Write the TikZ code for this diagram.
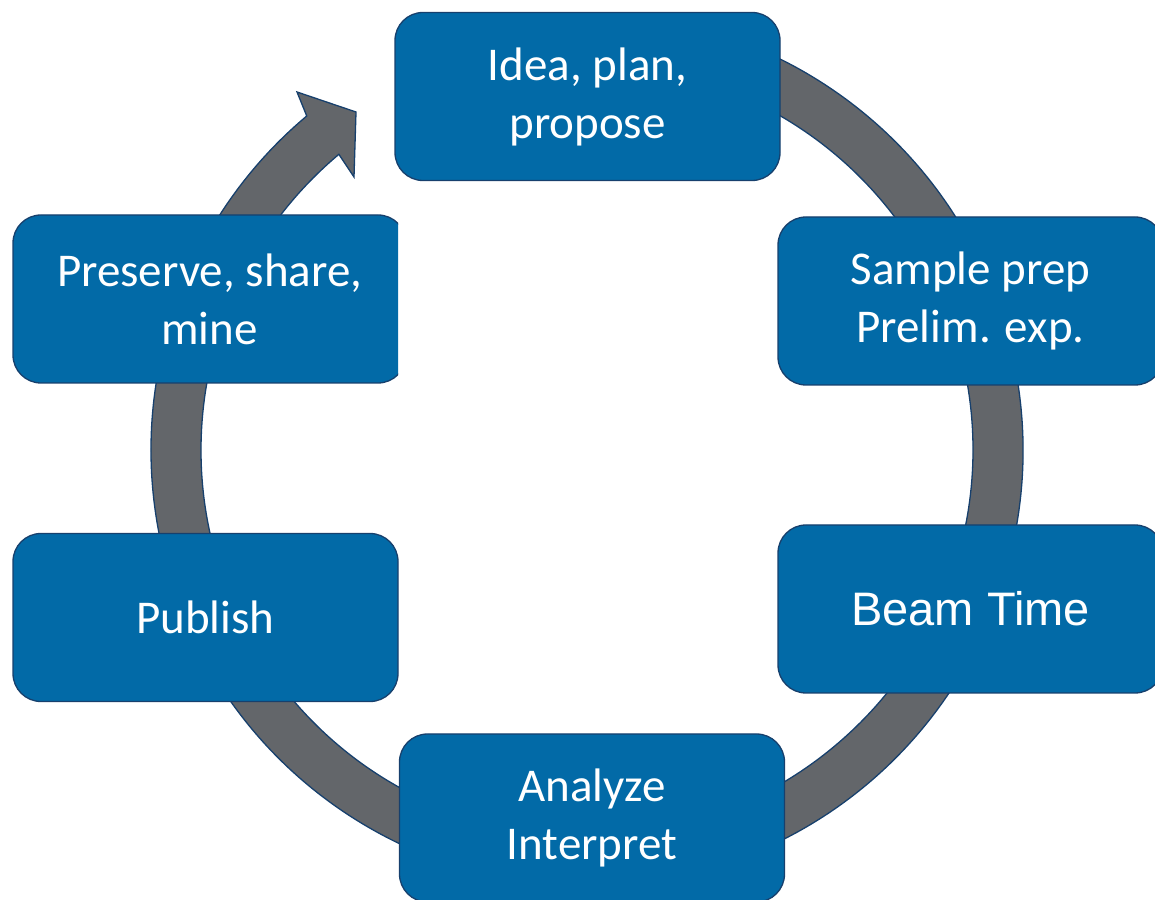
\documentclass[tikz,border=0pt]{standalone}
\usepackage{fontspec}
\setmainfont{Carlito}
\newfontfamily\arialfont{Liberation Sans}
\usepackage{xcolor}
\usetikzlibrary{shapes,positioning}
\definecolor{stageblue}{HTML}{026AA7}
\definecolor{edgeblue}{HTML}{17406D}
\definecolor{ringgray}{HTML}{63666A}
\tikzset{stage/.style={rectangle,rounded corners=28pt,draw=edgeblue,line width=1.3pt,fill=stageblue,
    text=white,minimum width=385pt,minimum height=168pt,align=center,font=\fontsize{47}{58}\selectfont},
  ring/.style={draw=edgeblue,line width=1.3pt,fill=ringgray,line join=miter}}

\begin{document}
\begin{tikzpicture}[x=1pt,y=1pt]
        \useasboundingbox (0,0) rectangle (1155,899);
        \coordinate (c) at (587,449);

        % the cycle: thick ring with a head at the upper left
        \draw[ring] ([shift={(c)}]100:436) arc[start angle=100,end angle=-230,radius=436]
            -- (297,807) -- (356,787) -- (354,722)
            -- ([shift={(c)}]130:386) arc[start angle=130,end angle=460,radius=386] -- cycle;

        \node[stage] (idea) at (587.5,802.5) {Idea, plan,\\propose};
        \node[stage] (sample) at (970.5,598) {Sample prep\\Prelim. exp.};
        \node[stage,font=\arialfont\fontsize{47}{58}\selectfont] (beam) at (970.5,290) {Beam Time};
        \node[stage] (analyze) at (592,81) {Analyze\\Interpret};
        \node[stage] (publish) at (205.5,281.5) {Publish};
        \begin{scope}
            \clip (0,400) rectangle (398,760);
            \node[stage,minimum width=393pt] (preserve) at (209.5,600) {Preserve, share,\\mine};
        \end{scope}
    \end{tikzpicture}
\end{document}
